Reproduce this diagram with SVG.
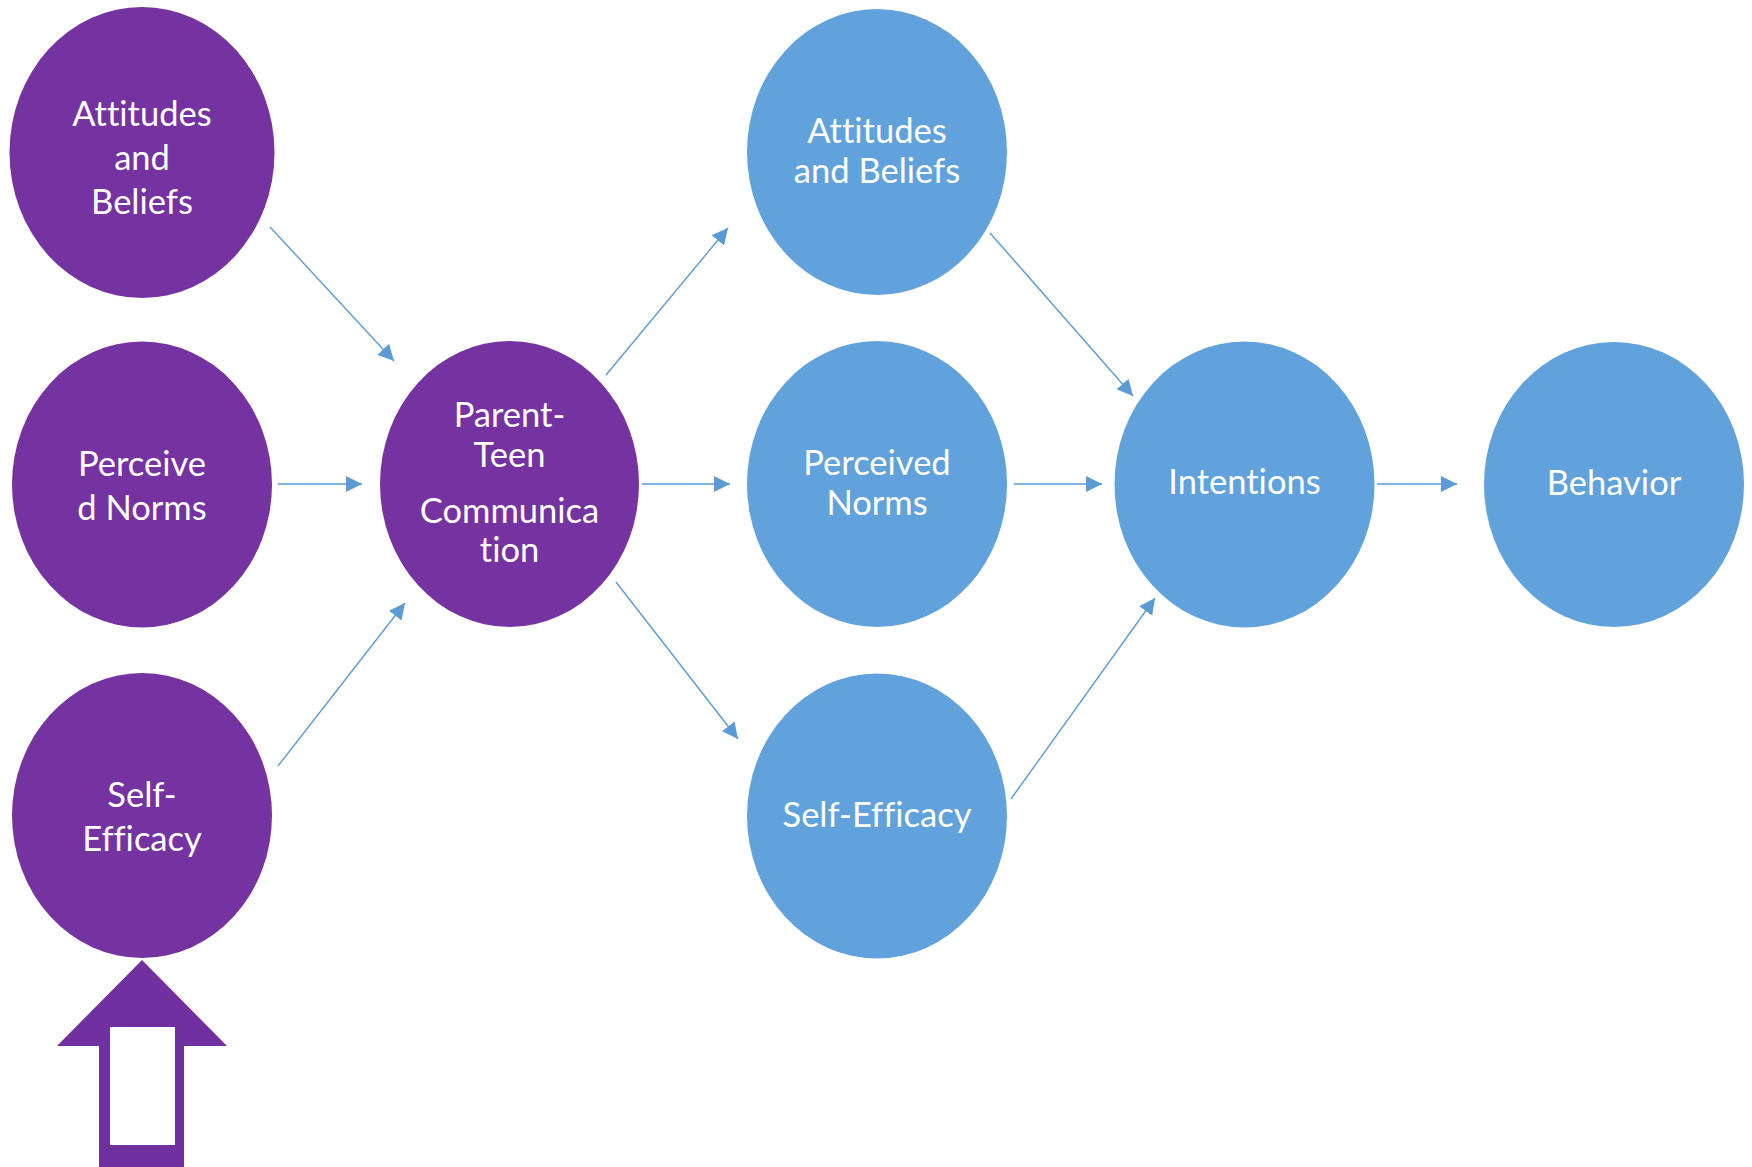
<svg xmlns="http://www.w3.org/2000/svg" width="1752" height="1167" viewBox="0 0 1752 1167">
<style>
.p{fill:#7533A2}
.b{fill:#61A2DC}
text{font-family:Lato,"Open Sans","Liberation Sans",sans-serif;font-size:34.5px;fill:#fff;text-anchor:middle;font-variant-ligatures:none}
.c line{stroke:#5B9BD5;stroke-width:1.4;marker-end:url(#ah)}
</style>
<defs>
<marker id="ah" markerUnits="userSpaceOnUse" markerWidth="16" markerHeight="16" refX="16" refY="8" orient="auto" viewBox="0 0 16 16">
<path d="M0,0 L16,8 L0,16 z" fill="#5B9BD5"/>
</marker>
</defs>
<rect width="1752" height="1167" fill="#fff"/>
<g id="p-attitudes"><ellipse class="p" cx="142" cy="152.5" rx="132.5" ry="145.5"/><text x="142" y="126">Attitudes</text><text x="142" y="170">and</text><text x="142" y="214">Beliefs</text></g>
<g id="p-norms"><ellipse class="p" cx="142" cy="484.5" rx="130" ry="143"/><text x="142" y="476">Perceive</text><text x="142" y="520">d Norms</text></g>
<g id="p-efficacy"><ellipse class="p" cx="142" cy="815.5" rx="130" ry="142.5"/><text x="142" y="807">Self-</text><text x="142" y="851">Efficacy</text></g>
<g id="parent-teen"><ellipse class="p" cx="509.5" cy="484" rx="129.5" ry="143"/><text x="509.5" y="427">Parent-</text><text x="509.5" y="467">Teen</text><text x="509.5" y="523">Communica</text><text x="509.5" y="562">tion</text></g>
<g id="b-attitudes"><ellipse class="b" cx="877" cy="152" rx="130" ry="143"/><text x="877" y="143">Attitudes</text><text x="877" y="183">and Beliefs</text></g>
<g id="b-norms"><ellipse class="b" cx="877" cy="484" rx="130" ry="143"/><text x="877" y="475">Perceived</text><text x="877" y="515">Norms</text></g>
<g id="b-efficacy"><ellipse class="b" cx="877" cy="816" rx="130" ry="142.5"/><text x="877" y="827">Self-Efficacy</text></g>
<g id="intentions"><ellipse class="b" cx="1244.5" cy="484.5" rx="130" ry="143"/><text x="1244.5" y="494">Intentions</text></g>
<g id="behavior"><ellipse class="b" cx="1614" cy="484.5" rx="130" ry="142.5"/><text x="1614" y="495">Behavior</text></g>
<g id="block-arrow"><polygon points="142,960 227,1046 184,1046 184,1167 99,1167 99,1046 57,1046" fill="#7030A0"/><rect x="110" y="1027" width="65" height="118" fill="#fff"/></g>
<g class="c" id="connectors">
<line x1="270" y1="227" x2="394" y2="361"/>
<line x1="278" y1="484" x2="362" y2="484"/>
<line x1="278" y1="766" x2="405" y2="603"/>
<line x1="606" y1="375" x2="728" y2="228"/>
<line x1="642" y1="484" x2="730" y2="484"/>
<line x1="616" y1="582" x2="738" y2="739"/>
<line x1="990" y1="233" x2="1133" y2="396"/>
<line x1="1014" y1="484" x2="1102" y2="484"/>
<line x1="1011" y1="799" x2="1155" y2="598"/>
<line x1="1377" y1="484" x2="1457" y2="484"/>
</g>
</svg>
